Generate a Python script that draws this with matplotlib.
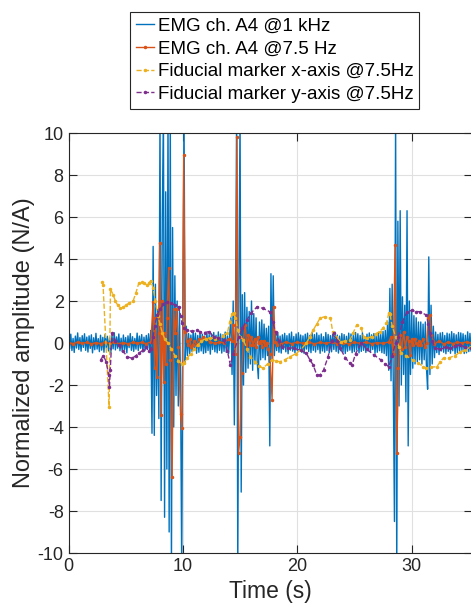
import numpy as np
import matplotlib.pyplot as plt

plt.rcParams['font.family'] = ['Liberation Sans', 'DejaVu Sans']
plt.rcParams['axes.unicode_minus'] = False

emg_base_a = [0.31, -0.27, 0.42, -0.36, 0.22, -0.45, 0.33, -0.24, 0.48, -0.31, 0.26, -0.39,
              0.35, -0.21, 0.44, -0.35, 0.28, -0.43, 0.34, -0.26, 0.39, -0.47, 0.25, -0.32,
              0.46, -0.29, 0.21, -0.41, 0.37, -0.34, 0.27, -0.44, 0.41, -0.23, 0.32, -0.38,
              0.24, -0.46, 0.36, -0.28, 0.49, -0.33, 0.29, -0.25, 0.43, -0.37, 0.23, -0.42,
              0.38, -0.31, 0.26, -0.47, 0.34, -0.22, 0.45, -0.35, 0.3, -0.4, 0.22, -0.29,
              0.47, -0.36, 0.33, -0.25, 0.4, -0.43, 0.28, -0.34, 0.36, -0.3, 0.44, -0.38]
emg_burst_1 = [0.6, -4.3, 4.6, -4.4, 2.8, -2.5, 1.6, -3.6, 11, -7.5, 6.0, 11, -8.3, 7.2, -6.0,
               11, -9.0, 11, -11, 5.5, -4.0, 3.2, -2.5, 2.0, -3.0, 1.5, -2.0, -11, 1.0, 11,
               -1.0, 0.8, -0.6]
emg_base_b = [0.45, -0.52, 0.38, -0.41, 0.55, -0.33, 0.47, -0.49, 0.36, -0.44, 0.51, -0.38,
              0.42, -0.5, 0.33, -0.46, 0.48, -0.36, 0.4, -0.53, 0.44, -0.31, 0.5, -0.42,
              0.37, -0.47, 0.53, -0.35, 0.43, -0.48, 0.39, -0.4, 0.52, -0.45, 0.34, -0.5, 0.46]
emg_burst_2 = [1.2, -1.5, 2.0, -3.9, 1.0, 11, -11, 2.5, 11, -7.1,
               2.3, -2.0, 2.4, -1.4, 1.7, -1.2, 1.5, -1.0, 2.0, -1.3,
               1.4, -1.0, 1.2, -0.9, -1.7, 1.0, -0.8, 1.1, -0.7, 0.9,
               -0.8, 0.7, -0.6, 0.8, -4.9, 3.3, -0.8, 3.2, -0.6]
emg_base_c = [0.41, -0.36, 0.5, -0.44, 0.33, -0.48, 0.39, -0.3, 0.46, -0.42, 0.35, -0.51,
              0.44, -0.34, 0.52, -0.39, 0.31, -0.47, 0.43, -0.37, 0.49, -0.33, 0.38, -0.45,
              0.34, -0.5, 0.42, -0.29, 0.47, -0.41, 0.36, -0.46, 0.51, -0.35, 0.4, -0.43,
              0.48, -0.32, 0.37, -0.49, 0.43, -0.38, 0.3, -0.44, 0.5, -0.36, 0.41, -0.47,
              0.35, -0.42, 0.46, -0.31, 0.52, -0.4, 0.38, -0.48, 0.33, -0.37, 0.45, -0.43,
              0.4, -0.5, 0.32, -0.39, 0.47, -0.34, 0.43, -0.46, 0.37, -0.41, 0.5, -0.33,
              0.44, -0.47, 0.36, -0.4, 0.49, -0.35, 0.31, -0.45, 0.42, -0.38, 0.48, -0.42,
              0.39, -0.31, 0.45, -0.49, 0.34, -0.44, 0.51, -0.37, 0.41, -0.46, 0.55, -0.5, 0.6]
emg_burst_3 = [-0.6, 1.0, -1.3, 2.6, -1.8, 2.8, -2.0, -8.5, 11, -11,
               5.8, -3.0, 6.3, -2.0, 2.2, -1.5, 1.8, -2.8, 6.3, -4.9,
               2.0, -1.5, 1.5, -1.2, 1.3, -1.0, 1.2, -0.9, 1.0, -0.8,
               1.0, -1.0, 0.9, -0.8, 1.0, -1.2, -2.2, 4.1, -1.5, 1.8,
               -1.0, 0.8, -0.7]
emg_base_d = [0.52, -0.46, 0.41, -0.55, 0.48, -0.38, 0.5, -0.44, 0.36, -0.51, 0.47, -0.4,
              0.43, -0.49, 0.54, -0.37, 0.45, -0.52, 0.39, -0.46, 0.5, -0.42, 0.48, -0.35,
              0.44, -0.5, 0.37, -0.47, 0.53, -0.41, 0.46, -0.39, 0.42]
emg_starts = [0.0, 7.2, 10.5, 14.2, 18.1, 27.8, 32.1]

# EMG ch. A4 @7.5 Hz
slow_t = [0.0, 0.4, 0.8, 1.2, 1.6, 2.0, 2.4, 2.8, 3.2, 3.6, 4.0, 4.4, 4.8, 5.2, 5.6, 6.0, 6.4,
          6.8, 7.2, 7.4, 7.53, 7.6, 7.73, 7.87, 7.98, 8.1, 8.2, 8.33, 8.4, 8.5, 8.6, 8.76, 8.9,
          9.06, 9.2, 9.33, 9.46, 9.6, 9.8, 9.93, 10.07, 10.2, 10.33, 10.47, 10.6, 10.73, 10.87,
          11.0, 11.2, 11.4, 11.6, 11.8, 12.0, 12.4, 12.8, 13.2, 13.6, 14.0, 14.27, 14.4, 14.6,
          14.73, 14.87, 15.0, 15.13, 15.3, 15.46, 15.6, 15.73, 15.87, 16.0, 16.13, 16.27, 16.4,
          16.53, 16.67, 16.8, 16.93, 17.07, 17.2, 17.33, 17.47, 17.6, 17.8, 17.93, 18.07, 18.2,
          18.4, 18.6, 19.0, 19.5, 20.0, 20.5, 21.0, 21.5, 22.0, 22.5, 23.0, 23.5, 24.0, 24.5,
          25.0, 25.5, 26.0, 26.5, 27.0, 27.5, 28.0, 28.2, 28.4, 28.56, 28.7, 28.85, 29.0, 29.15,
          29.3, 29.45, 29.6, 29.73, 29.87, 30.0, 30.13, 30.27, 30.4, 30.53, 30.67, 30.8, 31.0,
          31.2, 31.33, 31.47, 31.6, 31.73, 31.87, 32.0, 32.4, 32.8, 33.2, 33.6, 34.0, 34.4,
          34.8, 35.2, 35.6]
slow_v = [0.02, -0.03, 0.04, -0.02, 0.03, -0.04, 0.02, -0.03, 0.03, -0.02, 0.04, -0.03, 0.02,
          -0.04, 0.03, -0.02, 0.03, -0.03, 0.05, 1.97, -1.2, 1.18, -1.6, 0.5, 4.75, -3.43, 2.0,
          -1.84, 0.5, -1.0, 1.2, 3.56, -0.8, -6.4, 1.6, 0.5, 1.6, -0.2, -3.4, -4.06, 8.95, 0.54,
          0.1, -0.1, 0.2, -0.2, -0.1, 0.1, -0.1, 0.2, 0.1, 0.3, 0.2, 0.05, -0.02, 0.05, 0.0, 0.2,
          0.1, 0.86, -0.5, 9.82, -5.25, -4.46, -1.44, 0.2, 0.86, -0.3, 0.4, -0.1, 0.3, -0.1, 0.2,
          -0.2, 0.3, 0.0, 0.1, -0.2, 0.1, -0.1, 0.0, -0.3, -0.5, -2.71, 1.73, 0.06, -0.1, 0.1,
          -0.05, 0.05, -0.03, 0.04, -0.02, 0.05, -0.04, 0.03, -0.02, 0.04, -0.03, 0.02, -0.04,
          0.03, -0.02, 0.04, -0.03, 0.02, -0.02, 0.05, 0.3, -0.5, 4.67, -5.25, -1.21, 0.4, -0.3,
          0.54, -0.2, 0.3, 0.1, -0.57, 0.2, -0.1, 0.2, 0.0, -0.1, 0.1, -0.1, 0.2, -0.2, 0.0,
          1.18, 1.33, 0.4, 0.1, -0.05, 0.1, -0.05, 0.05, -0.03, 0.04, 0.0, 0.05, 0.0, 0.02]

# Fiducial marker x-axis @7.5Hz
fx_t = [2.94, 3.02, 3.55, 3.67, 3.9, 4.1, 4.3, 4.54, 4.8, 5.0, 5.3, 5.65, 5.9, 6.14, 6.4, 6.6,
        6.87, 7.0, 7.2, 7.4, 7.6, 7.8, 8.0, 8.2, 8.4, 8.7, 9.0, 9.3, 9.6, 9.9, 10.1, 10.4, 10.7,
        11.0, 11.3, 11.6, 12.0, 12.4, 12.8, 13.1, 13.5, 13.9, 14.1, 14.3, 14.45, 14.6, 14.8,
        15.0, 15.3, 15.6, 15.9, 16.3, 16.7, 17.0, 17.4, 17.8, 18.1, 18.5, 18.9, 19.4, 19.9,
        20.3, 20.8, 21.1, 21.4, 21.7, 22.0, 22.4, 22.9, 23.1, 23.4, 23.8, 24.2, 24.6, 24.9,
        25.2, 25.6, 25.8, 26.1, 26.5, 26.9, 27.2, 27.5, 27.8, 28.0, 28.1, 28.3, 28.6, 28.9,
        29.1, 29.5, 30.1, 30.6, 31.0, 31.3, 31.7, 32.2, 32.5, 32.8, 33.3, 33.8, 34.2, 34.7,
        35.2, 35.6]
fx_v = [2.92, 2.75, -3.03, 2.57, 2.3, 2.0, 1.8, 1.65, 1.7, 1.8, 1.9, 2.0, 2.4, 2.84, 2.9, 2.85,
        2.76, 2.85, 2.97, 2.6, 2.0, 1.3, 0.9, 0.5, 0.2, 0.0, -0.3, -0.6, -0.85, -1.0, -0.95,
        -0.7, -0.5, -0.3, -0.1, 0.1, 0.2, 0.25, 0.2, 0.25, 0.35, 0.5, 1.0, 1.4, 1.45, 1.2, 0.6,
        0.3, 0.14, -0.3, -0.65, -0.9, -1.1, -1.2, -1.0, -0.8, -0.85, -0.89, -0.8, -0.65, -0.5,
        -0.33, 0.0, 0.3, 0.62, 0.9, 1.19, 1.25, 1.19, 0.54, 0.3, 0.06, 0.1, 0.14, 0.5, 0.86,
        0.7, 0.3, 0.23, 0.3, 0.45, 0.54, 0.71, 0.93, 1.43, 1.4, 0.8, 0.3, -0.2, -0.48, -0.6,
        -0.81, -0.95, -1.13, -1.2, -1.15, -1.13, -0.9, -0.7, -0.7, -0.6, -0.45, -0.33, -0.17,
        0.0]

# Fiducial marker y-axis @7.5Hz
fy_t = [2.8, 3.05, 3.3, 3.5, 3.58, 3.65, 3.81, 4.1, 4.4, 4.8, 5.12, 5.56, 5.9, 6.14, 6.5, 6.8,
        7.0, 7.2, 7.4, 7.55, 7.74, 8.0, 8.3, 8.62, 9.0, 9.3, 9.63, 9.8, 9.93, 10.1, 10.37, 10.8,
        11.2, 11.5, 11.9, 12.25, 12.7, 13.1, 13.6, 13.9, 14.15, 14.4, 14.9, 15.2, 15.6, 16.0,
        16.5, 17.0, 17.6, 17.85, 18.1, 18.4, 18.7, 19.2, 19.7, 20.3, 20.8, 21.1, 21.4, 21.7,
        22.0, 22.3, 22.7, 23.0, 23.2, 23.5, 23.75, 24.2, 24.6, 24.8, 25.1, 25.6, 26.1, 26.7,
        27.3, 27.7, 28.0, 28.3, 28.6, 28.85, 29.2, 29.6, 30.0, 30.4, 30.7, 31.3, 31.45, 31.6,
        31.8, 32.05, 32.5, 33.0, 33.4, 33.8, 34.2, 34.7, 35.2, 35.6]
fy_v = [-0.81, -0.6, -0.9, -1.5, -2.08, -1.3, 0.46, 0.1, -0.1, -0.4, -0.65, -0.73, -0.6, -0.49,
        -0.35, -0.2, -0.4, -0.3, 0.3, 0.8, 1.33, 1.6, 1.85, 1.97, 1.9, 1.8, 1.73, 1.3, 0.94,
        0.7, 0.62, 0.55, 0.6, 0.54, 0.5, 0.54, 0.3, 0.25, 0.14, -0.4, -1.05, -0.5, 0.3, 0.7,
        1.1, 1.45, 1.73, 1.65, 1.49, 1.0, 0.54, 0.1, -0.17, -0.22, -0.25, -0.35, -0.49, -0.8,
        -1.05, -1.52, -1.52, -1.29, -0.65, 0.1, 0.46, 0.1, -0.24, -0.7, -0.97, -1.05, -0.5,
        0.0, -0.3, -0.57, -0.8, -1.0, -1.13, -0.6, 0.0, 0.3, 1.0, 1.49, 1.55, 1.5, 1.49, 1.33,
        0.9, 0.46, 0.1, -0.25, -0.3, -0.2, -0.25, -0.15, -0.1, -0.2, -0.25, -0.2]

labels = ['EMG ch. A4 @1 kHz', 'EMG ch. A4 @7.5 Hz',
          'Fiducial marker x-axis @7.5Hz', 'Fiducial marker y-axis @7.5Hz']

segs = [emg_base_a, emg_burst_1, emg_base_b, emg_burst_2, emg_base_c, emg_burst_3, emg_base_d]
emg_t = np.concatenate([s0 + 0.1 * np.arange(len(s)) for s0, s in zip(emg_starts, segs)])
emg_v = np.concatenate(segs)

fig = plt.figure(figsize=(4.71, 6.05), dpi=100)
ax = fig.add_axes([68.5 / 471, 52 / 605, (472 - 68.5) / 471, 420 / 605])

ax.plot(emg_t, emg_v, color='#0072BD', lw=1.0, label=labels[0])
ax.plot(slow_t, slow_v, color='#D95319', lw=1.0, marker='.', ms=3, label=labels[1])
ax.plot(fx_t, fx_v, color='#EDB120', lw=1.0, ls='--', marker='.', ms=3, label=labels[2])
ax.plot(fy_t, fy_v, color='#7E2F8E', lw=1.0, ls='--', marker='.', ms=3, label=labels[3])

ax.set_xlim(0, 35.28)
ax.set_ylim(-10, 10)
ax.set_xticks([0, 10, 20, 30])
ax.set_yticks(np.arange(-10, 11, 2))
ax.grid(True, color='#e0e0e0', lw=0.8)
ax.set_axisbelow(True)
ax.tick_params(direction='in', length=6, top=True, right=True, labelsize=13,
               colors='#262626', width=0.8)
for sp in ax.spines.values():
    sp.set_color('#262626')
ax.set_xlabel('Time (s)', fontsize=16.5, color='#262626', labelpad=4)
ax.set_ylabel('Normalized amplitude (N/A)', fontsize=17, color='#262626', labelpad=2)

leg = ax.legend(loc='upper left', bbox_to_anchor=(130 / 471, 1 - 12 / 605),
                bbox_transform=fig.transFigure, fontsize=13.5, handlelength=1.0,
                handletextpad=0.2, borderpad=0.3, labelspacing=0.3, fancybox=False,
                framealpha=1, edgecolor='#262626', borderaxespad=0)
leg.get_frame().set_linewidth(0.8)

fig.savefig('out.png', dpi=100)
